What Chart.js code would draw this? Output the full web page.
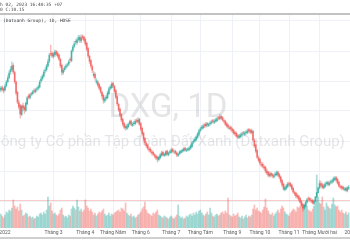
<!DOCTYPE html>
<html>
<head>
<meta charset="utf-8">
<script src="https://cdn.jsdelivr.net/npm/chart.js@4.4.0/dist/chart.umd.min.js"></script>
<style>
  html, body { margin: 0; padding: 0; background: #ffffff; }
  #wrap { position: relative; width: 350px; height: 250px; }
</style>
</head>
<body>
<div id="wrap"><canvas id="dxgChart" width="350" height="250"></canvas></div>
<script>
// DXG daily candles, late Dec 2021 -> end of Dec 2022 (price in thousand VND)
const opens = [
  28.5, 28.9, 28.7, 28.5, 29.2, 29.9, 30.6, 31.5, 31.9, 32.6, 31.4, 29.8,
  28.1, 26.4, 25.9, 24.4, 25.9, 25.6, 25.1, 26.2, 27.5, 27.2, 27.9, 27.9,
  28.4, 28.2, 28.6, 28.8, 29.0, 30.0, 30.4, 30.8, 31.7, 31.9, 32.5, 33.3,
  34.6, 34.6, 34.1, 34.4, 34.9, 34.6, 34.3, 33.6, 32.6, 31.4, 31.9, 32.3,
  32.6, 32.8, 33.6, 33.4, 35.1, 35.8, 36.6, 36.4, 36.9, 37.3, 36.7, 37.4,
  37.3, 36.9, 36.3, 35.4, 34.1, 33.4, 32.4, 30.9, 31.1, 29.8, 29.8, 29.4,
  28.9, 28.1, 27.6, 26.7, 27.1, 27.2, 27.9, 28.8, 28.9, 29.6, 29.1, 28.4,
  27.4, 26.1, 25.3, 24.4, 23.6, 22.9, 22.4, 22.1, 22.4, 22.9, 23.3, 22.6,
  22.9, 22.9, 23.4, 23.2, 23.6, 22.9, 22.1, 21.3, 20.4, 19.6, 19.3, 18.7,
  18.6, 18.2, 18.1, 17.7, 17.5, 17.3, 16.9, 17.2, 17.6, 18.1, 17.6, 17.7,
  18.3, 17.7, 18.1, 18.1, 18.6, 18.2, 18.3, 18.0, 17.6, 17.9, 18.1, 18.3,
  18.4, 18.8, 18.4, 18.5, 18.6, 18.8, 19.1, 19.8, 20.0, 20.2, 20.6, 21.1,
  21.8, 22.1, 22.2, 22.7, 22.5, 22.9, 22.6, 22.9, 23.0, 23.4, 23.1, 23.3,
  23.4, 23.9, 23.7, 24.1, 23.9, 23.4, 23.3, 22.9, 22.6, 22.1, 22.3, 22.0,
  21.8, 21.4, 21.3, 20.9, 20.6, 20.7, 21.0, 21.4, 21.1, 21.4, 21.4, 21.9,
  21.8, 21.4, 21.6, 20.1, 19.3, 18.4, 17.2, 16.9, 16.1, 16.1, 15.7, 15.6,
  15.0, 14.8, 14.2, 14.6, 14.4, 14.0, 14.3, 14.4, 14.8, 14.4, 14.0, 13.4,
  12.8, 11.9, 12.1, 12.4, 12.9, 12.9, 12.6, 12.1, 11.4, 11.3, 10.9, 10.8,
  10.4, 9.9, 9.4, 8.8, 9.2, 9.8, 10.4, 10.4, 10.1, 10.1, 9.6, 10.0,
  10.7, 11.4, 12.2, 12.9, 12.7, 12.2, 12.4, 12.9, 13.1, 12.7, 13.1, 13.2,
  13.3, 13.6, 13.9, 13.6, 13.1, 12.4, 12.4, 12.3, 11.9, 12.1, 11.7, 12.1
];
const highs = [
  29.1, 29.2, 28.9, 29.4, 30.1, 30.9, 31.7, 32.4, 33.2, 32.9, 31.6, 30.0,
  28.3, 26.8, 26.1, 26.0, 26.3, 25.9, 26.5, 27.4, 27.8, 27.9, 28.1, 28.4,
  28.7, 28.8, 29.0, 29.3, 30.1, 30.7, 31.1, 31.8, 32.2, 32.8, 33.6, 34.6,
  36.0, 34.9, 34.8, 35.2, 35.1, 34.9, 34.5, 33.8, 32.8, 32.1, 32.5, 32.8,
  33.0, 33.5, 33.9, 35.2, 36.0, 36.6, 36.9, 37.2, 37.6, 37.6, 37.7, 37.7,
  37.5, 37.1, 36.5, 35.6, 34.3, 33.6, 32.7, 31.6, 31.4, 30.4, 30.1, 29.6,
  29.1, 28.3, 27.8, 27.3, 27.6, 28.3, 29.0, 29.3, 29.8, 29.8, 29.3, 28.6,
  27.6, 26.3, 25.5, 24.6, 23.8, 23.1, 22.7, 22.8, 23.0, 23.5, 23.5, 23.1,
  23.3, 23.6, 23.7, 23.9, 23.8, 23.1, 22.3, 21.5, 20.6, 19.9, 19.5, 19.0,
  18.9, 18.5, 18.3, 17.9, 17.7, 17.5, 17.5, 17.9, 18.3, 18.3, 18.0, 18.4,
  18.5, 18.2, 18.5, 18.8, 18.8, 18.5, 18.5, 18.2, 18.0, 18.4, 18.5, 18.7,
  18.9, 19.0, 18.8, 18.9, 19.1, 19.4, 19.9, 20.3, 20.6, 20.9, 21.4, 22.0,
  22.3, 22.6, 22.8, 22.9, 23.1, 23.1, 23.0, 23.3, 23.5, 23.6, 23.6, 23.8,
  24.0, 24.1, 24.4, 24.3, 24.1, 23.7, 23.5, 23.1, 22.8, 22.5, 22.5, 22.2,
  22.0, 21.6, 21.5, 21.1, 21.1, 21.3, 21.5, 21.6, 21.6, 21.8, 22.0, 22.1,
  22.0, 22.0, 21.8, 20.3, 19.5, 18.6, 17.5, 17.1, 16.5, 16.4, 16.0, 15.8,
  15.3, 15.0, 14.8, 14.8, 14.6, 14.5, 14.8, 15.0, 15.0, 14.6, 14.2, 13.6,
  13.0, 12.5, 12.8, 13.1, 13.2, 13.1, 12.8, 12.3, 11.7, 11.5, 11.2, 11.0,
  10.6, 10.1, 9.6, 9.5, 10.0, 10.5, 10.7, 10.6, 10.4, 10.3, 10.2, 10.7,
  11.4, 12.2, 13.4, 13.3, 13.0, 12.8, 13.1, 13.3, 13.3, 13.3, 13.5, 13.6,
  14.0, 14.1, 14.1, 13.8, 13.3, 12.7, 12.6, 12.5, 12.3, 12.3, 12.4, 12.6
];
const lows = [
  28.2, 28.3, 28.0, 28.3, 29.0, 29.7, 30.4, 31.1, 31.6, 31.2, 29.6, 27.7,
  26.2, 25.3, 23.8, 24.2, 25.0, 24.6, 24.9, 26.0, 27.0, 27.0, 27.5, 27.7,
  28.0, 28.0, 28.3, 28.5, 28.8, 29.7, 30.1, 30.6, 31.3, 31.6, 32.3, 33.0,
  34.2, 33.9, 33.8, 34.1, 34.2, 33.9, 33.4, 32.2, 31.0, 31.1, 31.6, 32.0,
  32.3, 32.5, 33.1, 33.2, 34.8, 35.5, 36.1, 36.1, 36.6, 36.4, 36.4, 36.9,
  36.5, 35.9, 35.0, 33.9, 32.9, 32.2, 31.4, 30.6, 30.1, 29.5, 29.0, 28.5,
  27.9, 27.1, 26.3, 26.4, 26.8, 27.0, 27.7, 28.5, 28.7, 28.9, 28.0, 27.0,
  25.9, 24.9, 24.0, 23.2, 22.5, 22.0, 21.8, 21.9, 22.2, 22.7, 22.5, 22.4,
  22.6, 22.7, 23.0, 23.0, 22.6, 21.7, 20.9, 20.0, 19.4, 18.9, 18.5, 18.2,
  18.0, 17.7, 17.5, 17.2, 16.9, 16.5, 16.7, 17.0, 17.4, 17.5, 17.4, 17.5,
  17.6, 17.5, 17.9, 18.0, 18.1, 17.9, 17.8, 17.4, 17.4, 17.7, 17.9, 18.1,
  18.2, 18.3, 18.2, 18.3, 18.4, 18.6, 18.9, 19.5, 19.8, 20.0, 20.4, 20.9,
  21.5, 21.8, 22.0, 22.2, 22.3, 22.4, 22.4, 22.6, 22.8, 23.0, 22.9, 23.1,
  23.2, 23.5, 23.5, 23.6, 23.3, 23.0, 22.6, 22.3, 22.0, 21.9, 21.7, 21.4,
  21.1, 20.9, 20.6, 20.4, 20.4, 20.5, 20.8, 21.0, 20.9, 21.1, 21.2, 21.4,
  21.2, 21.2, 20.0, 18.9, 18.0, 17.1, 16.5, 16.0, 15.7, 15.5, 15.2, 14.7,
  14.4, 14.0, 14.0, 14.0, 13.9, 13.8, 14.1, 14.2, 14.1, 13.7, 13.0, 12.4,
  11.8, 11.7, 11.9, 12.2, 12.5, 12.3, 11.8, 11.3, 10.9, 10.5, 10.4, 10.0,
  9.6, 9.1, 8.3, 8.6, 9.0, 9.6, 10.0, 9.9, 9.7, 9.5, 9.4, 9.9,
  10.6, 11.3, 12.0, 12.3, 12.0, 12.0, 12.2, 12.6, 12.5, 12.5, 12.8, 12.9,
  13.1, 13.4, 13.2, 12.8, 12.3, 12.0, 11.9, 11.8, 11.7, 11.6, 11.5, 11.9
];
const closes = [
  28.8, 28.6, 28.4, 29.1, 29.8, 30.5, 31.3, 31.9, 32.5, 31.5, 29.9, 28.0,
  26.5, 25.7, 24.5, 25.8, 25.5, 25.2, 26.3, 27.2, 27.3, 27.7, 27.8, 28.2,
  28.3, 28.5, 28.7, 29.0, 29.8, 30.3, 30.8, 31.5, 31.8, 32.5, 33.2, 34.3,
  34.5, 34.2, 34.5, 34.8, 34.5, 34.2, 33.7, 32.5, 31.5, 31.8, 32.2, 32.5,
  32.7, 33.2, 33.5, 35.0, 35.7, 36.2, 36.5, 36.8, 37.2, 36.8, 37.2, 37.2,
  36.8, 36.2, 35.3, 34.2, 33.3, 32.5, 31.8, 31.2, 30.5, 30.0, 29.3, 28.8,
  28.2, 27.5, 26.8, 27.0, 27.3, 28.0, 28.7, 29.0, 29.5, 29.2, 28.3, 27.3,
  26.2, 25.2, 24.3, 23.5, 22.8, 22.3, 22.2, 22.5, 22.8, 23.2, 22.8, 22.8,
  23.0, 23.3, 23.3, 23.5, 22.8, 22.0, 21.2, 20.3, 19.7, 19.2, 18.8, 18.5,
  18.3, 18.0, 17.8, 17.5, 17.2, 17.0, 17.3, 17.7, 18.0, 17.7, 17.8, 18.2,
  17.8, 18.0, 18.2, 18.5, 18.3, 18.2, 18.0, 17.7, 17.8, 18.2, 18.3, 18.5,
  18.7, 18.5, 18.5, 18.7, 18.8, 19.2, 19.7, 20.0, 20.3, 20.7, 21.2, 21.7,
  22.0, 22.3, 22.5, 22.5, 22.8, 22.7, 22.8, 23.0, 23.2, 23.3, 23.3, 23.5,
  23.7, 23.8, 24.0, 23.8, 23.5, 23.3, 22.8, 22.5, 22.3, 22.2, 22.0, 21.7,
  21.3, 21.2, 20.8, 20.7, 20.8, 21.0, 21.2, 21.3, 21.3, 21.5, 21.7, 21.7,
  21.5, 21.7, 20.2, 19.2, 18.3, 17.3, 16.8, 16.3, 16.0, 15.8, 15.5, 15.0,
  14.7, 14.3, 14.5, 14.3, 14.2, 14.2, 14.5, 14.7, 14.3, 14.0, 13.3, 12.7,
  12.0, 12.2, 12.5, 12.8, 12.8, 12.5, 12.0, 11.5, 11.2, 10.8, 10.7, 10.3,
  9.8, 9.3, 8.8, 9.3, 9.8, 10.2, 10.3, 10.2, 10.0, 9.7, 10.0, 10.7,
  11.4, 12.2, 12.9, 12.6, 12.3, 12.5, 12.8, 13.0, 12.8, 13.0, 13.2, 13.3,
  13.7, 13.8, 13.5, 13.0, 12.5, 12.3, 12.2, 12.0, 12.0, 11.8, 12.2, 12.3
];
// volume in million shares
const volumes = [
  14, 12, 10, 13, 16, 15, 18, 17, 20, 28, 22, 19,
  21, 17, 24, 18, 12, 13, 15, 14, 11, 12, 10, 11,
  9, 10, 12, 11, 14, 15, 13, 16, 14, 18, 31, 22,
  25, 17, 14, 15, 13, 12, 14, 18, 20, 13, 11, 12,
  10, 13, 12, 19, 22, 20, 18, 28, 21, 17, 19, 16,
  18, 28, 22, 20, 17, 19, 16, 13, 15, 12, 14, 16,
  15, 17, 19, 14, 12, 13, 15, 12, 14, 13, 15, 16,
  17, 18, 16, 20, 19, 17, 25, 15, 13, 12, 14, 11,
  12, 10, 11, 13, 14, 16, 19, 21, 26, 18, 15, 14,
  13, 12, 15, 14, 16, 18, 13, 12, 11, 10, 12, 11,
  10, 9, 11, 12, 10, 9, 11, 13, 23, 12, 10, 11,
  9, 10, 12, 11, 13, 14, 12, 15, 13, 16, 14, 17,
  18, 15, 13, 12, 14, 16, 13, 20, 15, 12, 11, 13,
  14, 12, 13, 15, 16, 14, 17, 15, 30, 13, 12, 11,
  14, 12, 13, 15, 11, 10, 12, 9, 11, 13, 10, 12,
  11, 13, 19, 23, 18, 20, 17, 16, 15, 18, 21, 29,
  20, 17, 14, 13, 15, 12, 14, 16, 18, 15, 19, 22,
  20, 16, 14, 13, 12, 15, 17, 19, 18, 16, 21, 20,
  22, 24, 21, 23, 24, 22, 18, 17, 16, 19, 22, 27,
  53, 31, 25, 24, 31, 21, 18, 25, 22, 20, 19, 24,
  30, 23, 21, 22, 18, 16, 18, 15, 14, 16, 13, 15
];

// x-axis month marks (index of first session of the month)
const monthTickIdx = [3, 38, 61, 81, 101, 123, 144, 167, 187, 208, 230, 252];
const monthTickLabels = ['2022', 'Tháng 3', 'Tháng 4', 'Tháng Năm', 'Tháng 6', 'Tháng 7',
  'Tháng Tám', 'Tháng 9', 'Tháng 10', 'Tháng 11', 'Tháng Mười hai', '2023'];
const priceGrid = [10, 15, 20, 25, 30, 35, 40];
const lastPrice = 10.15;

const UP = 'rgba(38,166,154,0.72)';
const DOWN = 'rgba(239,83,80,0.72)';
const isUp = opens.map((o, i) => closes[i] >= o);

// watermark, header, price line and month labels
const decorPlugin = {
  id: 'decor',
  beforeDatasetsDraw(chart) {
    const ctx = chart.ctx;
    const area = chart.chartArea;
    ctx.save();
    ctx.fillStyle = 'rgba(160,163,170,0.28)';
    ctx.textAlign = 'center';
    ctx.textBaseline = 'alphabetic';
    ctx.font = '33px Roboto, "Noto Sans", sans-serif';
    ctx.fillText('DXG, 1D', 168, 117);
    ctx.font = '15px Roboto, "Noto Sans", sans-serif';
    ctx.fillText('Công ty Cổ phần Tập đoàn Đất Xanh (Datxanh Group)', 168, 146);

    // last price line
    const py = Math.round(chart.scales.y.getPixelForValue(lastPrice)) + 0.5;
    ctx.strokeStyle = 'rgba(239,83,80,0.3)';
    ctx.lineWidth = 1;
    ctx.beginPath();
    ctx.moveTo(area.left, py);
    ctx.lineTo(area.right, py);
    ctx.stroke();
    ctx.restore();
  },
  afterDraw(chart) {
    const ctx = chart.ctx;
    const xs = chart.scales.x;
    ctx.save();
    // month labels under the plot, centred on the axis ticks
    ctx.fillStyle = '#606060';
    ctx.font = '5px Roboto, sans-serif';
    ctx.textAlign = 'center';
    ctx.textBaseline = 'middle';
    monthTickIdx.forEach((v, k) => {
      ctx.fillText(monthTickLabels[k], xs.getPixelForValue(v), 233);
    });

    ctx.fillStyle = '#4a4a4a';
    ctx.textAlign = 'left';
    ctx.font = '4.5px "DejaVu Sans Mono", monospace';
    ctx.fillText('h 02, 2023 16:40:35 +07', 0, 5);
    ctx.fillText('0 C:10.15', 0, 10);
    ctx.fillStyle = '#c2c2c2';
    ctx.fillRect(0, 13, 350, 2);
    ctx.fillStyle = '#cfcfcf';
    ctx.fillRect(0, 237, 350, 2);
    ctx.fillStyle = '#3c3c3c';
    ctx.fillText('(Datxanh Group), 1D, HOSE', 3, 21);
    ctx.restore();
  }
};

const ctx = document.getElementById('dxgChart').getContext('2d');
const dxgChart = new Chart(ctx, {
  type: 'bar',
  data: {
    datasets: [
      {
        label: 'body',
        data: opens.map((o, i) => ({ x: i, y: [o, closes[i]] })),
        backgroundColor: isUp.map(u => u ? UP : DOWN),
        barThickness: 1,
        grouped: false,
        order: 0,
        yAxisID: 'y'
      },
      {
        label: 'wick',
        data: lows.map((l, i) => ({ x: i, y: [l, highs[i]] })),
        backgroundColor: isUp.map(u => u ? 'rgba(38,166,154,0.45)' : 'rgba(239,83,80,0.45)'),
        barThickness: 0.6,
        grouped: false,
        order: 1,
        yAxisID: 'y'
      },
      {
        label: 'volume',
        data: volumes.map((v, i) => ({ x: i, y: v })),
        backgroundColor: isUp.map(u => u ? 'rgba(38,166,154,0.38)' : 'rgba(239,83,80,0.38)'),
        barThickness: 1.1,
        grouped: false,
        order: 2,
        yAxisID: 'yv'
      }
    ]
  },
  options: {
    responsive: false,
    animation: false,
    layout: { padding: { top: 15, bottom: 22, left: 0, right: 0 } },
    plugins: {
      legend: { display: false },
      tooltip: { enabled: false }
    },
    scales: {
      x: {
        type: 'linear',
        min: -0.6,
        max: 252,
        offset: false,
        border: { display: false },
        grid: { color: '#eef1f6', drawTicks: false, offset: false },
        afterBuildTicks: axis => { axis.ticks = monthTickIdx.map(v => ({ value: v })); },
        ticks: { display: false }
      },
      y: {
        type: 'linear',
        position: 'right',
        min: 5.5,
        max: 41,
        border: { display: false },
        grid: { color: '#eef1f6', drawTicks: false },
        afterBuildTicks: axis => { axis.ticks = priceGrid.map(v => ({ value: v })); },
        ticks: { display: false }
      },
      yv: {
        type: 'linear',
        display: false,
        min: 0,
        max: 213
      }
    }
  },
  plugins: [decorPlugin]
});
</script>
</body>
</html>
